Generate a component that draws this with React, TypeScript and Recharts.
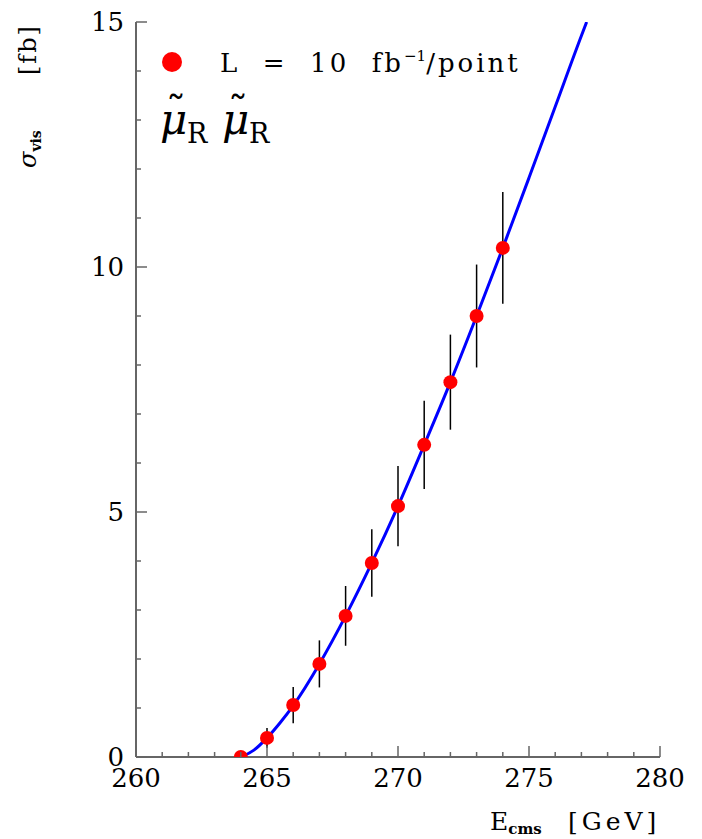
import {
  ComposedChart,
  Scatter,
  Line,
  XAxis,
  YAxis,
  ErrorBar,
} from "recharts";

// measured points (L = 10 fb^-1 per point)
const energies = [264, 265, 266, 267, 268, 269, 270, 271, 272, 273, 274];
const sigmaVis = [0.0, 0.39, 1.06, 1.9, 2.88, 3.96, 5.12, 6.37, 7.65, 9.0, 10.39];
const sigmaErr = [0.0, 0.2, 0.37, 0.48, 0.61, 0.69, 0.82, 0.9, 0.97, 1.05, 1.14];

// fitted curve
const curveE = [264.0, 264.5, 265, 265.5, 266, 267, 268, 269, 270, 271, 272, 273, 274, 275, 276, 277, 277.2];
const curveSigma = [0.0, 0.14, 0.39, 0.7, 1.05, 1.9, 2.88, 3.96, 5.12, 6.37, 7.65, 9.0, 10.39, 11.82, 13.27, 14.72, 15.0];

const xTicks = [260, 261, 262, 263, 264, 265, 266, 267, 268, 269, 270, 271, 272, 273, 274, 275, 276, 277, 278, 279, 280];
const yTicks = [0, 1, 2, 3, 4, 5, 6, 7, 8, 9, 10, 11, 12, 13, 14, 15];

const points = energies.map((e, i) => ({ x: e, y: sigmaVis[i], err: sigmaErr[i] }));
const curve = curveE.map((e, i) => ({ x: e, y: curveSigma[i] }));

const AXIS = "#666";
const FONT = "'DejaVu Serif', serif";
const MAJOR = 11;
const MINOR = 5;

const BottomTick = (props: any) => {
  const { x, y, payload } = props;
  const major = payload.value % 5 === 0;
  return (
    <g>
      <line x1={x} y1={y} x2={x} y2={y - (major ? MAJOR : MINOR)} stroke={AXIS} strokeWidth={1.5} />
      {major && (
        <text x={x} y={y + 30} textAnchor="middle" style={{ fontFamily: FONT }} fontSize={26} fill="#000">
          {payload.value}
        </text>
      )}
    </g>
  );
};

const TopTick = (props: any) => {
  const { x, y, payload } = props;
  const major = payload.value % 5 === 0;
  return <line x1={x} y1={y} x2={x} y2={y + (major ? MAJOR : MINOR)} stroke={AXIS} strokeWidth={1.5} />;
};

const LeftTick = (props: any) => {
  const { x, y, payload } = props;
  const major = payload.value % 5 === 0;
  return (
    <g>
      <line x1={x} y1={y} x2={x + (major ? MAJOR : MINOR)} y2={y} stroke={AXIS} strokeWidth={1.5} />
      {major && (
        <text x={x - 12} y={y + 9} textAnchor="end" style={{ fontFamily: FONT }} fontSize={26} fill="#000">
          {payload.value}
        </text>
      )}
    </g>
  );
};

const RightTick = (props: any) => {
  const { x, y, payload } = props;
  const major = payload.value % 5 === 0;
  return <line x1={x} y1={y} x2={x - (major ? MAJOR : MINOR)} y2={y} stroke={AXIS} strokeWidth={1.5} />;
};

const Dot = (p: any) => <circle cx={p.cx} cy={p.cy} r={7} fill="#ff0000" />;

export default function App() {
  return (
    <div style={{ position: "relative", width: 694, height: 831 }}>
      <ComposedChart
        width={694}
        height={831}
        margin={{ top: 14, right: 42, left: 0, bottom: 0 }}
      >
        <XAxis
          dataKey="x"
          type="number"
          domain={[260, 280]}
          ticks={xTicks}
          interval={0}
          height={82}
          tickSize={0}
          tickMargin={0}
          tickLine={false}
          tick={<BottomTick />}
          axisLine={{ stroke: AXIS, strokeWidth: 2 }}
          allowDataOverflow
        />
        <XAxis
          xAxisId="top"
          orientation="top"
          type="number"
          domain={[260, 280]}
          ticks={xTicks}
          interval={0}
          height={0}
          tickSize={0}
          tickMargin={0}
          tickLine={false}
          tick={<TopTick />}
          axisLine={{ stroke: AXIS, strokeWidth: 2 }}
          allowDataOverflow
        />
        <YAxis
          type="number"
          domain={[0, 15]}
          ticks={yTicks}
          interval={0}
          width={128}
          tickSize={0}
          tickMargin={0}
          tickLine={false}
          tick={<LeftTick />}
          axisLine={{ stroke: AXIS, strokeWidth: 2 }}
          allowDataOverflow
        />
        <YAxis
          yAxisId="right"
          orientation="right"
          type="number"
          domain={[0, 15]}
          ticks={yTicks}
          interval={0}
          width={0}
          tickSize={0}
          tickMargin={0}
          tickLine={false}
          tick={<RightTick />}
          axisLine={{ stroke: AXIS, strokeWidth: 2 }}
          allowDataOverflow
        />
        <Scatter data={points} dataKey="y" shape={Dot} isAnimationActive={false}>
          <ErrorBar dataKey="err" direction="y" width={0} stroke="#000" strokeWidth={1.5} />
        </Scatter>
        <Line
          data={curve}
          dataKey="y"
          type="monotone"
          stroke="#0000ff"
          strokeWidth={3}
          dot={false}
          activeDot={false}
          isAnimationActive={false}
        />
      </ComposedChart>

      {/* labels and legend, page coords minus body margin */}
      <svg
        width={694}
        height={831}
        style={{ position: "absolute", left: 0, top: 0, pointerEvents: "none", fontFamily: FONT }}
      >
        <text transform="translate(28,160) rotate(-90)" fontSize={24}>
          <tspan fontStyle="italic">σ</tspan>
          <tspan fontSize={14} fontWeight="bold" dy={5}>vis</tspan>
          <tspan x={93} dy={-5} letterSpacing={2}>[fb]</tspan>
        </text>

        <text x={482} y={822} fontSize={25}>
          <tspan>E</tspan>
          <tspan fontSize={15} fontWeight="bold" dy={4}>cms</tspan>
          <tspan x={560} dy={-4} letterSpacing={4}>[GeV]</tspan>
        </text>

        <circle cx={164} cy={54} r={10} fill="#ff0000" />
        <text x={212} y={64} fontSize={26} letterSpacing={3} style={{ whiteSpace: "pre" }}>
          <tspan>L  =  10  fb</tspan>
          <tspan fontSize={15} dy={-11} letterSpacing={0}>−1</tspan>
          <tspan dy={11}>/point</tspan>
        </text>

        {/* smuon pair label: tilde-mu with subscript R, twice */}
        <text>
          <tspan x={152} y={126} fontSize={42} fontStyle="italic">μ</tspan>
          <tspan x={158} y={116} fontSize={40}>˜</tspan>
          <tspan x={179} y={135} fontSize={27}>R</tspan>
          <tspan x={214} y={126} fontSize={42} fontStyle="italic">μ</tspan>
          <tspan x={220} y={116} fontSize={40}>˜</tspan>
          <tspan x={241} y={135} fontSize={27}>R</tspan>
        </text>
      </svg>
    </div>
  );
}
